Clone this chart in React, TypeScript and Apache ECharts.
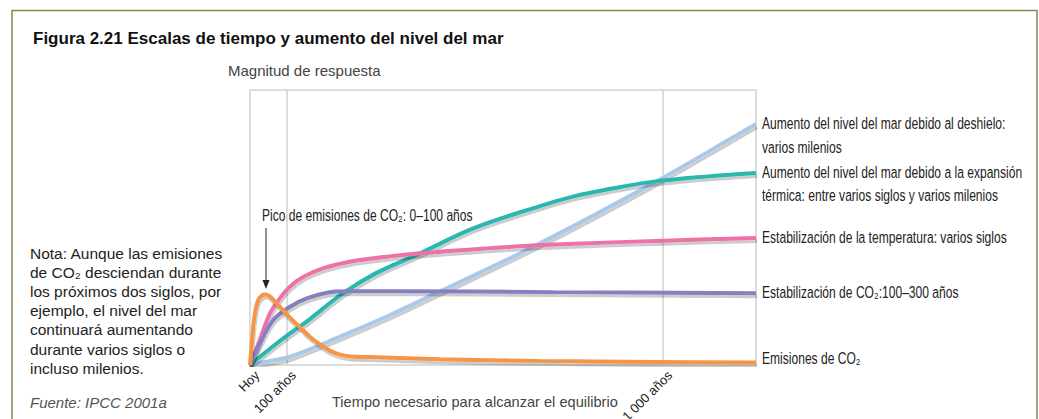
import React, { useEffect, useRef } from "react";
import * as echarts from "echarts";

const tickValues = [0, 7.25, 81.6];
const tickLabels = ["Hoy", "100 años", "1 000 años"];

const emisiones = [[0,0],[0.4,9],[0.9,18],[1.6,23.5],[2.4,25.3],[3,25.6],[3.8,25.1],[4.8,23.4],[6,21],[8,17],[10,13.5],[12,10],[14,7.3],[16,5],[18,3.7],[20,3.1],[25,2.8],[37.5,2.1],[57,1.5],[80,1.1],[100,0.9]];
const estabCO2 = [[0,0],[2,8],[4.6,16.4],[7.9,21.2],[11.2,24.2],[15.2,26.3],[19.1,26.8],[30,26.8],[60,26.5],[100,26.1]];
const temperatura = [[0,0],[2,9.5],[3.95,18.8],[6,24.5],[7.9,28.5],[10.5,32],[14.5,35.2],[19,37.3],[24.4,38.8],[33.6,40.6],[45,42.2],[57.3,43.6],[70,44.5],[81.7,45.2],[100,46.2]];
const expansion = [[0,0],[4,6],[7.9,11.5],[11.2,15.8],[18.4,26.1],[25,33.5],[33.6,40.6],[44.1,49.7],[57.3,57.8],[64,61.3],[70.5,63.8],[79.1,66.5],[90,68.5],[100,69.8]];
const deshielo = [[0,0],[3.3,1.2],[7.9,3],[17.8,10.3],[27.7,18.2],[37.5,26.7],[56,43],[79.1,65.5],[96.8,84.2],[100,87.6]];

const seriesDefs = [
  { name: "Aumento del nivel del mar debido al deshielo", data: deshielo, color: "#a9c9ea" },
  { name: "Aumento del nivel del mar debido a la expansión térmica", data: expansion, color: "#2bb7af" },
  { name: "Estabilización de la temperatura", data: temperatura, color: "#ee72a7" },
  { name: "Estabilización de CO₂", data: estabCO2, color: "#8680c0" },
  { name: "Emisiones de CO₂", data: emisiones, color: "#f59646" },
];

const rightLabels = [
  { text: "Aumento del nivel del mar debido al deshielo:\nvarios milenios", y: 135 },
  { text: "Aumento del nivel del mar debido a la expansión\ntérmica: entre varios siglos y varios milenios", y: 183.5 },
  { text: "Estabilización de la temperatura: varios siglos", y: 237 },
  { text: "Estabilización de CO₂:100–300 años", y: 292 },
  { text: "Emisiones de CO₂", y: 358 },
];

const noteLines = [
  "Nota: Aunque las emisiones",
  "de CO₂ desciendan durante",
  "los próximos dos siglos, por",
  "ejemplo, el nivel del mar",
  "continuará aumentando",
  "durante varios siglos o",
  "incluso milenios.",
];

const SANS = "'Liberation Sans', Arial, sans-serif";
const NARROW_SCALE = 0.71;
const NARROW_SIZE = 17;

export default function App() {
  const ref = useRef<HTMLDivElement>(null);
  useEffect(() => {
    if (!ref.current) return;
    const chart = echarts.init(ref.current, null, { renderer: "svg" });
    const series: any[] = seriesDefs.map((s) => ({
      name: s.name,
      type: "line",
      data: s.data,
      smooth: 0.35,
      showSymbol: false,
      z: 5,
      lineStyle: {
        color: s.color,
        width: 4,
        shadowColor: "rgba(0,0,0,0.2)",
        shadowBlur: 1,
        shadowOffsetY: 3,
        shadowOffsetX: 1,
      },
      silent: true,
    }));
    series.push({
      type: "line",
      data: [],
      z: 1,
      silent: true,
      markLine: {
        silent: true,
        symbol: "none",
        label: { show: false },
        lineStyle: { color: "#d2d2d2", width: 1.5, type: "solid" },
        data: tickValues.slice(1).map((v) => ({ xAxis: v })),
      },
    });
    chart.setOption({
      animation: false,
      backgroundColor: "#ffffff",
      grid: {
        left: 250,
        top: 90,
        right: 283,
        bottom: 54,
        containLabel: false,
        outerBoundsMode: "none",
        show: true,
        borderColor: "#d2d2d2",
        borderWidth: 1.5,
      },
      xAxis: {
        type: "value",
        min: 0,
        max: 100,
        axisLine: { show: false },
        axisTick: { show: false },
        splitLine: { show: false },
        axisLabel: {
          customValues: tickValues,
          rotate: 45,
          margin: 1,
          verticalAlign: "top",
          lineHeight: 20,
          fontFamily: SANS,
          fontSize: 13,
          color: "#222",
          formatter: (v: number) => {
            const i = tickValues.indexOf(v);
            return i >= 0 ? tickLabels[i] : "";
          },
        },
      },
      yAxis: {
        type: "value",
        min: 0,
        max: 100,
        axisLine: { show: false },
        axisTick: { show: false },
        axisLabel: { show: false },
        splitLine: { show: false },
      },
      series,
      graphic: [
        {
          type: "polyline",
          silent: true,
          shape: { points: [[12, 419], [12, 10.5], [1037, 10.5], [1037, 419]] },
          style: { stroke: "#7f8c4a", lineWidth: 1.5, fill: "none" },
        },
        {
          type: "text",
          x: 33,
          y: 38,
          style: {
            text: "Figura 2.21 Escalas de tiempo y aumento del nivel del mar",
            fontFamily: SANS,
            fontWeight: "bold",
            fontSize: 17,
            fill: "#111",
            verticalAlign: "middle",
          },
        },
        {
          type: "text",
          x: 228,
          y: 70,
          style: {
            text: "Magnitud de respuesta",
            fontFamily: SANS,
            fontSize: 15,
            fill: "#444",
            verticalAlign: "middle",
          },
        },
        {
          type: "text",
          x: 332,
          y: 402,
          style: {
            text: "Tiempo necesario para alcanzar el equilibrio",
            fontFamily: SANS,
            fontSize: 14.6,
            fill: "#444",
            verticalAlign: "middle",
          },
        },
        {
          type: "text",
          x: 30,
          y: 243.5,
          style: {
            text: noteLines.join("\n"),
            fontFamily: SANS,
            fontSize: 15.5,
            lineHeight: 19.2,
            fill: "#222",
            verticalAlign: "top",
          },
        },
        {
          type: "text",
          x: 30,
          y: 402,
          style: {
            text: "Fuente: IPCC 2001a",
            fontFamily: SANS,
            fontStyle: "italic",
            fontSize: 15,
            fill: "#555",
            verticalAlign: "middle",
          },
        },
        {
          type: "text",
          x: 262,
          y: 215,
          scaleX: NARROW_SCALE,
          style: {
            text: "Pico de emisiones de CO₂: 0–100 años",
            fontFamily: SANS,
            fontSize: NARROW_SIZE,
            fill: "#222",
            verticalAlign: "middle",
          },
        },
        {
          type: "line",
          silent: true,
          shape: { x1: 266, y1: 228, x2: 266, y2: 284 },
          style: { stroke: "#222", lineWidth: 1 },
        },
        {
          type: "polygon",
          silent: true,
          shape: { points: [[262.5, 280], [269.5, 280], [266, 289]] },
          style: { fill: "#222" },
        },
        ...rightLabels.map((l) => ({
          type: "text",
          x: 762,
          y: l.y,
          scaleX: NARROW_SCALE,
          style: {
            text: l.text,
            fontFamily: SANS,
            fontSize: NARROW_SIZE,
            lineHeight: 23.5,
            fill: "#222",
            verticalAlign: "middle",
          },
        })),
      ],
    });
    return () => chart.dispose();
  }, []);
  return (
    <div
      ref={ref}
      style={{ position: "fixed", left: 0, top: 0, width: 1039, height: 419 }}
    />
  );
}
